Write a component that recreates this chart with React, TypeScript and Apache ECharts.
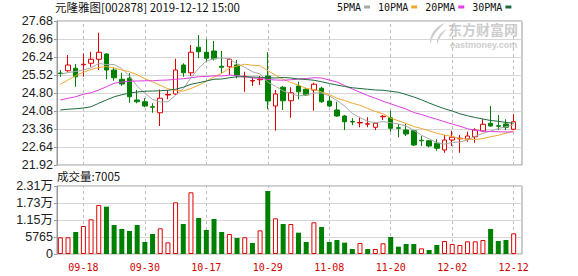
import React, { useEffect, useRef } from "react";
import * as echarts from "echarts";

const dates = [
  "09-12", "09-16", "09-17", "09-18", "09-19", "09-20", "09-23", "09-24", "09-25", "09-26", "09-27", "09-30",
  "10-08", "10-09", "10-10", "10-11", "10-14", "10-15", "10-16", "10-17", "10-18", "10-21", "10-22", "10-23",
  "10-24", "10-25", "10-28", "10-29", "10-30", "10-31",
  "11-01", "11-04", "11-05", "11-06", "11-07", "11-08", "11-11", "11-12", "11-13", "11-14", "11-15", "11-18",
  "11-19", "11-20", "11-21", "11-22", "11-25", "11-26", "11-27", "11-28", "11-29",
  "12-02", "12-03", "12-04", "12-05", "12-06", "12-09", "12-10", "12-11", "12-12",
];

const opens = [
  25.60, 25.69, 25.79, 25.93, 25.99, 26.15, 26.36, 25.72, 25.35, 25.39,
  24.52, 24.45, 24.25, 24.01, 24.72, 24.76, 25.92, 25.61, 26.63, 26.43,
  26.48, 25.87, 25.85, 25.92, 25.45, 25.28, 25.33, 25.48, 24.28, 25.03,
  24.49, 25.08, 24.95, 24.92, 24.99, 24.48, 24.12, 23.88, 23.66, 23.60,
  23.55, 23.43, 23.85, 23.81, 23.41, 23.32, 23.29, 22.91, 22.89, 22.79,
  22.52, 22.92, 22.97, 22.96, 23.05, 23.28, 23.59, 23.49, 23.56, 23.35,
];
const closes = [
  25.58, 25.92, 25.45, 25.95, 26.15, 26.43, 25.72, 25.41, 25.16, 24.65,
  24.45, 24.28, 24.23, 24.59, 24.74, 25.72, 25.61, 26.43, 26.45, 26.19,
  26.17, 25.83, 26.15, 25.52, 25.47, 25.30, 25.36, 24.48, 24.76, 24.49,
  24.81, 24.85, 24.72, 25.15, 24.45, 24.28, 23.88, 23.65, 23.64, 23.62,
  23.57, 23.59, 23.87, 23.39, 23.39, 23.16, 22.72, 22.89, 22.68, 22.59,
  22.92, 23.03, 22.99, 23.08, 23.32, 23.55, 23.48, 23.47, 23.43, 23.65,
];
const lows = [
  25.45, 25.65, 25.05, 25.45, 25.85, 25.72, 25.35, 25.29, 25.09, 24.41,
  24.39, 24.23, 24.01, 23.48, 24.55, 24.72, 25.45, 25.48, 26.19, 26.05,
  26.10, 25.59, 25.52, 25.39, 24.85, 25.08, 25.12, 24.15, 23.29, 24.12,
  23.81, 24.55, 24.68, 24.09, 24.41, 24.23, 23.85, 23.32, 23.52, 23.43,
  23.43, 23.32, 23.72, 23.25, 23.03, 23.08, 22.68, 22.68, 22.63, 22.49,
  22.41, 22.68, 22.41, 22.85, 22.81, 23.25, 23.45, 23.32, 23.32, 23.32,
];
const highs = [
  25.72, 26.32, 25.96, 26.38, 26.45, 27.21, 26.39, 25.83, 25.61, 25.59,
  24.92, 24.59, 24.39, 24.94, 24.92, 26.17, 25.99, 26.72, 27.12, 26.95,
  26.88, 26.48, 26.19, 26.12, 25.65, 25.43, 25.48, 26.43, 24.92, 25.08,
  25.03, 25.25, 25.01, 25.21, 25.05, 24.68, 24.45, 23.92, 23.79, 23.85,
  23.83, 23.61, 23.92, 24.09, 23.56, 23.56, 23.32, 23.08, 22.92, 22.95,
  23.12, 23.29, 23.12, 23.25, 23.39, 23.75, 24.28, 23.92, 23.75, 23.95,
];

const volumes = [
  5660, 5660, 7460, 9490, 11760, 16620, 16050, 9830, 8480, 7800,
  9830, 4070, 6780, 8700, 3950, 17520, 10170, 20910, 12210, 8140,
  11870, 7460, 6780, 5430, 5660, 3730, 8020, 21360, 12090, 10170,
  10170, 7230, 4070, 10740, 9160, 4070, 4750, 3840, 1700, 3730,
  1700, 1700, 3620, 5770, 2490, 3390, 3390, 1920, 1360, 3050,
  4410, 3390, 3050, 4300, 4300, 4750, 8480, 4410, 4750, 7005,
];
const volumeUp = [
  1, 1, 0, 1, 1, 1, 0, 0, 0, 0,
  0, 0, 0, 1, 1, 1, 0, 1, 0, 0,
  0, 0, 1, 0, 1, 0, 1, 0, 1, 0,
  1, 0, 0, 1, 0, 0, 0, 0, 0, 1,
  0, 1, 1, 0, 0, 0, 0, 1, 0, 0,
  1, 1, 1, 1, 1, 1, 0, 0, 0, 1,
];

const ma5 = [
  25.55, 25.62, 25.66, 25.72, 25.81, 25.98, 25.94, 25.94, 25.78, 25.48,
  25.08, 24.79, 24.55, 24.44, 24.45, 24.71, 24.97, 25.41, 25.79, 26.08,
  26.17, 26.21, 26.16, 25.97, 25.83, 25.65, 25.56, 25.23, 25.07, 24.88,
  24.78, 24.68, 24.73, 24.80, 24.80, 24.69, 24.50, 24.28, 23.98, 23.81,
  23.67, 23.61, 23.66, 23.61, 23.56, 23.48, 23.31, 23.11, 22.97, 22.81,
  22.76, 22.82, 22.84, 22.92, 23.07, 23.19, 23.28, 23.38, 23.45, 23.52,
];
const ma10 = [
  25.15, 25.32, 25.50, 25.63, 25.74, 25.82, 25.86, 25.80, 25.72, 25.65,
  25.53, 25.37, 25.25, 25.11, 24.97, 24.90, 24.88, 24.98, 25.11, 25.27,
  25.44, 25.59, 25.79, 25.88, 25.95, 25.91, 25.89, 25.69, 25.52, 25.35,
  25.22, 25.12, 24.98, 24.94, 24.84, 24.74, 24.59, 24.50, 24.39, 24.31,
  24.18, 24.06, 23.97, 23.79, 23.69, 23.58, 23.46, 23.38, 23.29, 23.19,
  23.12, 23.06, 22.98, 22.95, 22.94, 22.98, 23.05, 23.11, 23.19, 23.29,
];
const ma20 = [
  24.52, 24.59, 24.65, 24.75, 24.81, 24.92, 25.05, 25.19, 25.24, 25.27,
  25.28, 25.29, 25.29, 25.31, 25.32, 25.35, 25.37, 25.41, 25.45, 25.46,
  25.49, 25.48, 25.52, 25.49, 25.46, 25.40, 25.39, 25.34, 25.32, 25.31,
  25.33, 25.36, 25.38, 25.41, 25.40, 25.32, 25.24, 25.10, 24.96, 24.83,
  24.70, 24.59, 24.47, 24.37, 24.26, 24.16, 24.02, 23.94, 23.84, 23.75,
  23.65, 23.56, 23.47, 23.37, 23.31, 23.28, 23.26, 23.25, 23.24, 23.24,
];
const ma30 = [
  24.12, 24.15, 24.17, 24.20, 24.25, 24.39, 24.52, 24.65, 24.73, 24.80,
  24.84, 24.87, 24.88, 24.89, 24.91, 24.95, 25.03, 25.15, 25.21, 25.28,
  25.35, 25.36, 25.41, 25.45, 25.45, 25.44, 25.43, 25.41, 25.40, 25.42,
  25.40, 25.36, 25.34, 25.31, 25.25, 25.18, 25.12, 25.06, 25.01, 24.98,
  24.95, 24.92, 24.91, 24.87, 24.83, 24.74, 24.64, 24.53, 24.40, 24.28,
  24.17, 24.08, 23.97, 23.89, 23.82, 23.76, 23.70, 23.67, 23.62, 23.59,
];

const priceTicks = ["21.92", "22.64", "23.36", "24.08", "24.80", "25.52", "26.24", "26.96", "27.68"];
const volumeTicks = ["0", "5765", "1.15万", "1.73万", "2.31万"];
const labelDates = ["09-18", "09-30", "10-17", "10-29", "11-08", "11-20", "12-02", "12-12"];
const priceMin = 21.92;
const priceMax = 27.68;
const volumeMax = 23060;
const lastVolume = 7005;

const maNames = ["5PMA", "10PMA", "20PMA", "30PMA"];
const maColors = ["#a8a8a8", "#f0a830", "#e03ce0", "#1d6b3c"];
const maData = [ma5, ma10, ma20, ma30];

const UP = "#e00000";
const DOWN = "#008000";
const MONO = "'DejaVu Sans Mono', 'Noto Sans CJK SC', monospace";
const CJK = "'Noto Sans CJK SC', sans-serif";
const SANS = "'Liberation Sans', 'Noto Sans CJK SC', sans-serif";

echarts.graphic.registerShape(
  "emlogo",
  echarts.graphic.extendPath(
    "M18 0 C9 3 2 11 3 22 C5 13 10 7 18 0 Z M20 6 C13 9 9 15 10 22 C12 15 15 11 20 6 Z",
    {}
  )
);

export default function App() {
  const ref = useRef<HTMLDivElement>(null);

  useEffect(() => {
    if (!ref.current) return;
    const chart = echarts.init(ref.current, undefined, { renderer: "svg" });

    const vLines = {
      silent: true,
      z: 1,
      symbol: ["none", "none"],
      label: { show: false },
      lineStyle: { color: "#bdbdbd", type: [3, 3], width: 1 },
      emphasis: { disabled: true },
      data: labelDates.map((d) => ({ xAxis: d })),
    };

    const frameY = (ticks: string[], max: number, grid: number) => ({
      gridIndex: grid,
      type: "value",
      min: 0,
      max,
      interval: 1,
      axisLine: { show: true, lineStyle: { color: "#999" } },
      axisTick: { show: true, length: 3, lineStyle: { color: "#999" } },
      axisLabel: {
        formatter: (v: number) => ticks[v],
        color: "#222",
        fontFamily: SANS,
        fontSize: 12.5,
        margin: 4,
      },
      splitLine: { show: true, lineStyle: { color: "#d6d6d6", width: 1 } },
    });

    chart.setOption({
      animation: false,
      backgroundColor: "#fff",
      title: [
        {
          text: "元隆雅图[002878] 2019-12-12 15:00",
          left: 55,
          top: 1,
          padding: 0,
          textStyle: { fontFamily: CJK, fontSize: 11.5, fontWeight: "normal", color: "#111" },
        },
        {
          text: "成交量:" + lastVolume,
          left: 57,
          top: 170,
          padding: 0,
          textStyle: { fontFamily: CJK, fontSize: 11.5, fontWeight: "normal", color: "#111" },
        },
      ],
      legend: {
        data: maNames,
        left: 337,
        top: 2,
        padding: 0,
        icon: "rect",
        itemWidth: 6,
        itemHeight: 3,
        itemGap: 8,
        align: "right",
        selectedMode: false,
        textStyle: { fontFamily: MONO, fontSize: 10, color: "#111", padding: [0, -2, 0, 0] },
      },
      graphic: [
        {
          type: "emlogo",
          x: 427,
          y: 23,
          scaleX: 1,
          scaleY: 1,
          silent: true,
          z: 0,
          style: { fill: "#cdcdcd" },
        },
        {
          type: "text",
          x: 448,
          y: 22,
          silent: true,
          z: 0,
          style: { text: "东方财富网", font: `bold 14px ${CJK}`, fill: "#cdcdcd", verticalAlign: "top" },
        },
        {
          type: "text",
          x: 450,
          y: 40,
          silent: true,
          z: 0,
          style: { text: "eastmoney.com", font: "bold 9px 'Liberation Sans', sans-serif", fill: "#cdcdcd", verticalAlign: "top" },
        },
      ],
      grid: [
        { left: 57, right: 56, top: 21, height: 144, show: true, borderColor: "#999", borderWidth: 1, backgroundColor: "transparent" },
        { left: 57, right: 56, top: 186, height: 68, show: true, borderColor: "#999", borderWidth: 1, backgroundColor: "transparent" },
        { left: 56.5, width: 461, top: 21, height: 144 },
        { left: 56.5, width: 461, top: 186, height: 68 },
      ],
      xAxis: [
        { gridIndex: 0, type: "value", min: 0, max: 1, show: false },
        { gridIndex: 1, type: "value", min: 0, max: 1, show: false },
        { gridIndex: 2, type: "category", data: dates, boundaryGap: true, show: false },
        {
          gridIndex: 3,
          type: "category",
          data: dates,
          boundaryGap: true,
          axisLine: { show: false },
          axisTick: { show: false },
          splitLine: { show: false },
          axisLabel: {
            interval: (_i: number, v: string) => labelDates.indexOf(v) >= 0,
            color: "#d40000",
            fontFamily: MONO,
            fontSize: 10,
            margin: 8,
          },
        },
      ],
      yAxis: [
        frameY(priceTicks, 8, 0),
        frameY(volumeTicks, 4, 1),
        { gridIndex: 2, type: "value", min: priceMin, max: priceMax, show: false, splitLine: { show: false } },
        { gridIndex: 3, type: "value", min: 0, max: volumeMax, show: false, splitLine: { show: false } },
      ],
      series: [
        {
          type: "candlestick",
          xAxisIndex: 2,
          yAxisIndex: 2,
          barWidth: 5,
          data: dates.map((_, i) => [opens[i], closes[i], lows[i], highs[i]]),
          itemStyle: {
            color: "#ffffff",
            color0: DOWN,
            borderColor: UP,
            borderColor0: DOWN,
            borderWidth: 1,
          },
          markLine: vLines,
          z: 3,
        },
        ...maNames.map((name, k) => ({
          name,
          type: "line",
          xAxisIndex: 2,
          yAxisIndex: 2,
          data: maData[k],
          symbol: "none",
          color: maColors[k],
          lineStyle: { color: maColors[k], width: 1 },
          z: 4,
        })),
        {
          type: "bar",
          xAxisIndex: 3,
          yAxisIndex: 3,
          barWidth: 5,
          data: volumes.map((v, i) => ({
            value: v,
            itemStyle: volumeUp[i]
              ? { color: "#ffffff", borderColor: UP, borderWidth: 1 }
              : { color: DOWN, borderColor: DOWN, borderWidth: 0 },
          })),
          markLine: vLines,
          z: 3,
        },
      ],
    });

    return () => chart.dispose();
  }, []);

  return <div ref={ref} style={{ position: "absolute", left: 0, top: 0, width: 578, height: 276 }} />;
}
